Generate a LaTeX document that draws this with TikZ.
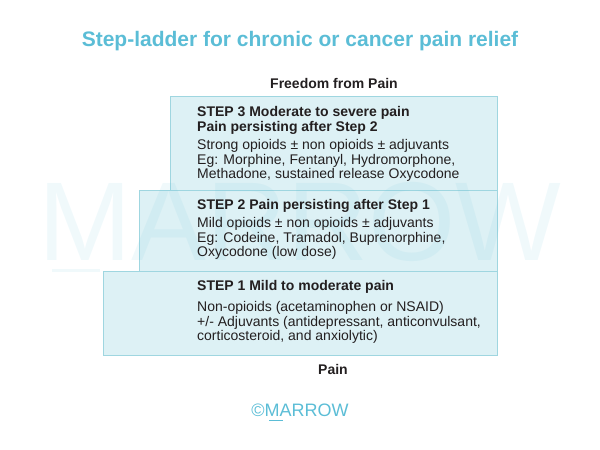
\documentclass[tikz,border=0pt]{standalone}
\usepackage{fontspec}
\setmainfont{Liberation Sans}
\usetikzlibrary{positioning}
\definecolor{ladderblue}{HTML}{5BBDD6}
\definecolor{stepfill}{HTML}{DDF1F5}
\definecolor{stepline}{HTML}{9FD6E0}
\definecolor{inktext}{HTML}{231F20}

\begin{document}
\begin{tikzpicture}[x=1pt,y=1pt,
  head/.style={inner sep=0pt,align=left,text=inktext,font=\fontsize{14}{15}\selectfont\bfseries},
  body/.style={inner sep=0pt,align=left,text=inktext,font=\fontsize{14}{14.5}\selectfont},
  steprect/.style={fill=stepfill,draw=stepline,line width=0.8pt}]
  \useasboundingbox (0,0) rectangle (600,450);

  \node[text=ladderblue,font=\fontsize{21}{24}\selectfont\bfseries] (title) at (300,409)
    {Step-ladder for chronic or cancer pain relief};

  \draw[steprect] (170,260) rectangle (497,354); % step 3
  \draw[steprect] (139,179) rectangle (497,260); % step 2
  \draw[steprect] (103,95) rectangle (497,179);  % step 1

  % watermark
  \node[text=ladderblue,opacity=0.09,font=\fontsize{112}{112}\selectfont] (mark) at (300,228) {MARROW};
  \fill[ladderblue,opacity=0.09] (52,178) rectangle (100,181);

  \node[head,anchor=north west] (h3) at (197,344)
    {STEP 3 Moderate to severe pain\\Pain persisting after Step 2};
  \node[body,below right=5pt and 0pt of h3.south west] (b3)
    {Strong opioids ± non opioids ± adjuvants\\Eg: Morphine, Fentanyl, Hydromorphone,\\Methadone, sustained release Oxycodone};

  \node[head,anchor=north west] (h2) at (197,251)
    {STEP 2 Pain persisting after Step 1};
  \node[body,below right=5pt and 0pt of h2.south west] (b2)
    {Mild opioids ± non opioids ± adjuvants\\Eg: Codeine, Tramadol, Buprenorphine,\\Oxycodone (low dose)};

  \node[head,anchor=north west] (h1) at (197,170)
    {STEP 1 Mild to moderate pain};
  \node[body,below right=8pt and 0pt of h1.south west] (b1)
    {Non-opioids (acetaminophen or NSAID)\\+/- Adjuvants (antidepressant, anticonvulsant,\\corticosteroid, and anxiolytic)};

  \node[text=inktext,font=\fontsize{14}{16}\selectfont\bfseries] (top) at (334,367) {Freedom from Pain};
  \node[text=inktext,font=\fontsize{14}{16}\selectfont\bfseries] (bottom) at (333,81) {Pain};

  \node[text=ladderblue,font=\fontsize{18}{20}\selectfont] (logo) at (300,40) {©MARROW};
  \fill[ladderblue] (269,28.5) rectangle (283,30);
\end{tikzpicture}
\end{document}
